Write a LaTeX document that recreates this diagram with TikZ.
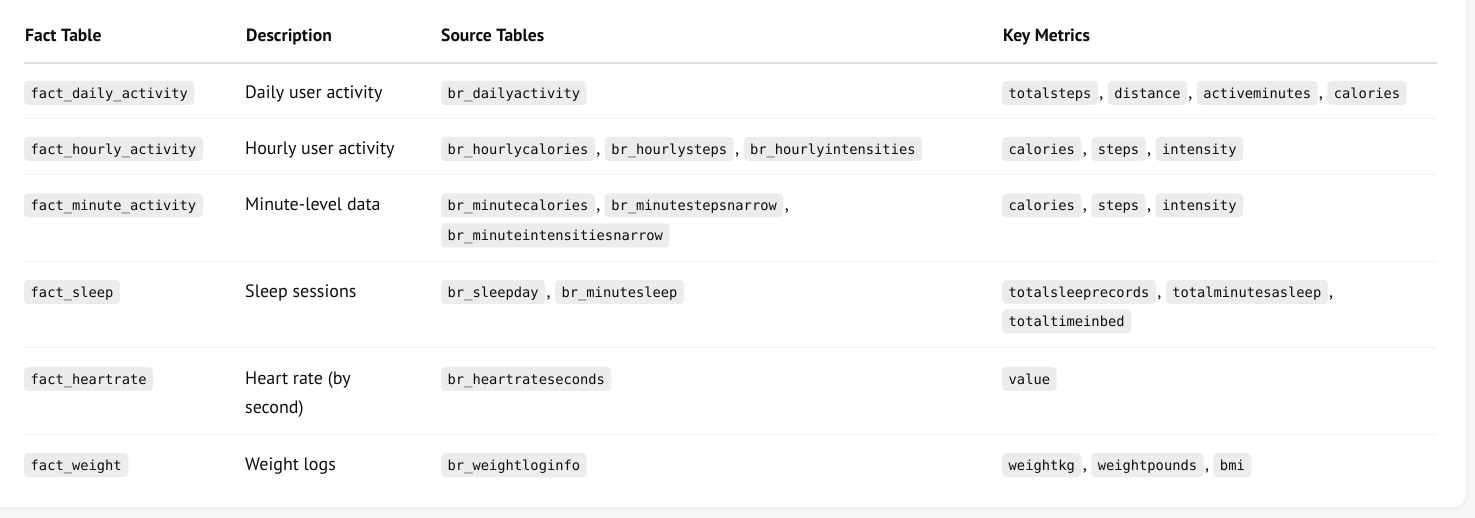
\documentclass[tikz,border=0pt]{standalone}
\usepackage{fontspec}
\setmainfont{PT Sans}
\newfontfamily\chipfont{DejaVu Sans Mono}
\usetikzlibrary{positioning}
\definecolor{chipgray}{HTML}{ECECEC}
\definecolor{rulegray}{HTML}{E0E0E0}
\definecolor{linegray}{HTML}{F0F0F0}
\definecolor{ink}{HTML}{0D0D0D}
\definecolor{pagegray}{HTML}{F7F7F7}

\begin{document}
\begin{tikzpicture}[x=1pt,y=-1pt,
head/.style={anchor=base west,inner sep=0,text=ink,
    font=\fontsize{17.6}{20}\selectfont\bfseries},
desc/.style={anchor=base west,inner sep=0,text=ink,align=left,
    font=\fontsize{18}{29}\selectfont},
chip/.style={fill=chipgray,rounded corners=4pt,inner xsep=6.5pt,inner ysep=0,
    minimum height=24pt,text height=12.5pt,text depth=1.5pt,text=ink,
    font=\chipfont\fontsize{13.75}{16}\selectfont},
sep/.style={inner sep=0,text=ink,font=\fontsize{18}{20}\selectfont}]
\useasboundingbox (0,0) rectangle (1475,518);
\fill[pagegray] (0,0) rectangle (1475,518);
\fill[black!5,rounded corners=14pt] (-20,-20) rectangle (1468,510);
\fill[white,rounded corners=14pt] (-20,-20) rectangle (1466,507);

\node[head] (hfact) at (25,41.7) {Fact Table};
\node[head] (hdesc) at (246,41.7) {Description};
\node[head] (hsrc) at (441,41.7) {Source Tables};
\node[head] (hkey) at (1003,41.7) {Key Metrics};
\draw[rulegray,line width=1.3pt] (24,63) -- (1437,63);
\draw[linegray,line width=1pt] (24,119) -- (1437,119) (24,175) -- (1437,175)
    (24,262) -- (1437,262) (24,348) -- (1437,348) (24,434) -- (1437,434);

% daily
\node[chip,anchor=west] (tdaily) at (24,93) {fact\_daily\_activity};
\node[desc] (ddaily) at (245,98.3) {Daily user activity};
\node[chip,anchor=west] (sdaily) at (441,93) {br\_dailyactivity};
\node[chip,anchor=west] (kdaily1) at (1002,93) {totalsteps};
\node[sep,base right=1pt of kdaily1] (kdaily1c) {,};
\node[chip,base right=4pt of kdaily1c] (kdaily2) {distance};
\node[sep,base right=1pt of kdaily2] (kdaily2c) {,};
\node[chip,base right=4pt of kdaily2c] (kdaily3) {activeminutes};
\node[sep,base right=1pt of kdaily3] (kdaily3c) {,};
\node[chip,base right=4pt of kdaily3c] (kdaily4) {calories};

% hourly
\node[chip,anchor=west] (thourly) at (24,149) {fact\_hourly\_activity};
\node[desc] (dhourly) at (245,154.5) {Hourly user activity};
\node[chip,anchor=west] (shourly1) at (441,149) {br\_hourlycalories};
\node[sep,base right=1pt of shourly1] (shourly1c) {,};
\node[chip,base right=4pt of shourly1c] (shourly2) {br\_hourlysteps};
\node[sep,base right=1pt of shourly2] (shourly2c) {,};
\node[chip,base right=4pt of shourly2c] (shourly3) {br\_hourlyintensities};
\node[chip,anchor=west] (khourly1) at (1002,149) {calories};
\node[sep,base right=1pt of khourly1] (khourly1c) {,};
\node[chip,base right=4pt of khourly1c] (khourly2) {steps};
\node[sep,base right=1pt of khourly2] (khourly2c) {,};
\node[chip,base right=4pt of khourly2c] (khourly3) {intensity};

% minute
\node[chip,anchor=west] (tminute) at (24,205.5) {fact\_minute\_activity};
\node[desc] (dminute) at (245,211) {Minute-level data};
\node[chip,anchor=west] (sminute1) at (441,205.5) {br\_minutecalories};
\node[sep,base right=1pt of sminute1] (sminute1c) {,};
\node[chip,base right=4pt of sminute1c] (sminute2) {br\_minutestepsnarrow};
\node[sep,base right=1pt of sminute2] (sminute2c) {,};
\node[chip,anchor=west] (sminute3) at (441,235.5) {br\_minuteintensitiesnarrow};
\node[chip,anchor=west] (kminute1) at (1002,205.5) {calories};
\node[sep,base right=1pt of kminute1] (kminute1c) {,};
\node[chip,base right=4pt of kminute1c] (kminute2) {steps};
\node[sep,base right=1pt of kminute2] (kminute2c) {,};
\node[chip,base right=4pt of kminute2c] (kminute3) {intensity};

% sleep
\node[chip,anchor=west] (tsleep) at (24,292) {fact\_sleep};
\node[desc] (dsleep) at (245,297.5) {Sleep sessions};
\node[chip,anchor=west] (ssleep1) at (441,292) {br\_sleepday};
\node[sep,base right=1pt of ssleep1] (ssleep1c) {,};
\node[chip,base right=4pt of ssleep1c] (ssleep2) {br\_minutesleep};
\node[chip,anchor=west] (ksleep1) at (1002,292) {totalsleeprecords};
\node[sep,base right=1pt of ksleep1] (ksleep1c) {,};
\node[chip,base right=4pt of ksleep1c] (ksleep2) {totalminutesasleep};
\node[sep,base right=1pt of ksleep2] (ksleep2c) {,};
\node[chip,anchor=west] (ksleep3) at (1002,321.5) {totaltimeinbed};

% heartrate
\node[chip,anchor=west] (theart) at (24,379) {fact\_heartrate};
\node[desc] (dheart) at (245,413.3) {Heart rate (by\\second)};
\node[chip,anchor=west] (sheart) at (441,379) {br\_heartrateseconds};
\node[chip,anchor=west] (kheart) at (1002,379) {value};

% weight
\node[chip,anchor=west] (tweight) at (24,465) {fact\_weight};
\node[desc] (dweight) at (245,470.5) {Weight logs};
\node[chip,anchor=west] (sweight) at (441,465) {br\_weightloginfo};
\node[chip,anchor=west] (kweight1) at (1002,465) {weightkg};
\node[sep,base right=1pt of kweight1] (kweight1c) {,};
\node[chip,base right=4pt of kweight1c] (kweight2) {weightpounds};
\node[sep,base right=1pt of kweight2] (kweight2c) {,};
\node[chip,base right=4pt of kweight2c] (kweight3) {bmi};
\end{tikzpicture}
\end{document}
